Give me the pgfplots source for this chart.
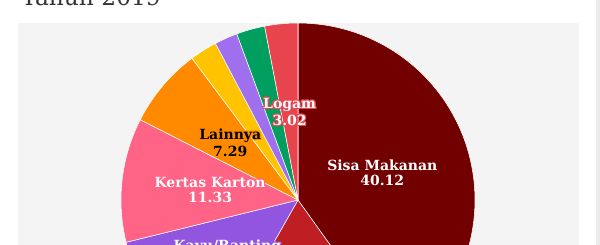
\documentclass[border=0pt]{standalone}
\usepackage{pgfplots}
\pgfplotsset{compat=1.18}
\usepgfplotslibrary{polar}
\usepackage{fontspec}
\setmainfont{DejaVu Serif}
\definecolor{cSisa}{HTML}{720000}
\definecolor{cPlastik}{HTML}{BF1E23}
\definecolor{cKayu}{HTML}{9155DF}
\definecolor{cKertas}{HTML}{FF6385}
\definecolor{cLainnya}{HTML}{FF8A00}
\definecolor{cKain}{HTML}{FFC300}
\definecolor{cKaret}{HTML}{9F6FEE}
\definecolor{cKaca}{HTML}{009E5F}
\definecolor{cLogam}{HTML}{E8444E}
\definecolor{panel}{HTML}{F4F4F4}
\definecolor{scroll}{HTML}{EBEBEB}
\definecolor{titlec}{HTML}{333333}
\gdef\cum{0}
\newcommand\slice[3]{% value, color, name
  \pgfmathsetmacro\aS{90-3.6*\cum}%
  \pgfmathsetmacro\cumN{\cum+#1}%
  \pgfmathsetmacro\aE{90-3.6*\cumN}%
  \pgfmathsetmacro\aM{(\aS+\aE)/2}%
  \expandafter\xdef\csname midang@#3\endcsname{\aM}%
  \edef\doplot{\noexpand\addplot[fill=#2, draw=white, line width=0.4pt, domain=\aE:\aS, samples=80] {1} -- (axis cs:0,0) -- cycle;}%
  \doplot
  \global\let\cum\cumN
}
\newcommand\midang[1]{\csname midang@#1\endcsname}
\newcommand\halo[3]{% halo color, text color, text
  \rlap{\color{#1}\hspace{0.8pt}#3}%
  \rlap{\color{#1}\hspace{-0.8pt}#3}%
  \rlap{\color{#1}\raisebox{0.8pt}{#3}}%
  \rlap{\color{#1}\raisebox{-0.8pt}{#3}}%
  \rlap{\color{#1}\hspace{0.6pt}\raisebox{0.6pt}{#3}}%
  \rlap{\color{#1}\hspace{-0.6pt}\raisebox{0.6pt}{#3}}%
  \rlap{\color{#1}\hspace{0.6pt}\raisebox{-0.6pt}{#3}}%
  \rlap{\color{#1}\hspace{-0.6pt}\raisebox{-0.6pt}{#3}}%
  {\color{#2}#3}}
\tikzset{lbl/.style={align=center, inner sep=0pt, font=\bfseries\fontsize{10.5}{11}\selectfont}}
\begin{document}
\begin{tikzpicture}[x=0.75pt,y=0.75pt]
\useasboundingbox (0,0) rectangle (600,245);
\clip (0,0) rectangle (600,245);
\fill[white] (0,0) rectangle (600,245);
\fill[panel] (18,0) rectangle (579,222);
\fill[scroll] (596,0) rectangle (600,245);
\node[anchor=base west, inner sep=0pt, text=titlec, font=\fontsize{17.5}{20}\selectfont] at (21,239) {Tahun 2019};
\begin{polaraxis}[at={(223.5pt,33.75pt)}, anchor=center, scale only axis,
  width=265.5pt, height=265.5pt, hide axis, ymin=0, ymax=1, clip=false]
\slice{40.12}{cSisa}{Sisa}
\slice{18.13}{cPlastik}{Plastik}
\slice{12.91}{cKayu}{Kayu}
\slice{11.33}{cKertas}{Kertas}
\slice{7.29}{cLainnya}{Lainnya}
\slice{2.5}{cKain}{Kain}
\slice{2.1}{cKaret}{Karet}
\slice{2.6}{cKaca}{Kaca}
\slice{3.02}{cLogam}{Logam}
\node[lbl] at (axis cs:\midang{Sisa},0.5) {\halo{cSisa}{white}{Sisa Makanan}\\\halo{cSisa}{white}{40.12}};
\node[lbl] at (axis cs:\midang{Plastik},0.5) {\halo{cPlastik}{white}{Plastik}\\\halo{cPlastik}{white}{18.13}};
\node[lbl] at (axis cs:\midang{Kayu},0.5) {\halo{cKayu}{white}{Kayu/Ranting}\\\halo{cKayu}{white}{12.91}};
\node[lbl] at (axis cs:\midang{Kertas},0.5) {\halo{cKertas}{white}{Kertas Karton}\\\halo{cKertas}{white}{11.33}};
\node[lbl] at (axis cs:\midang{Lainnya},0.5) {\halo{cLainnya}{black}{Lainnya}\\\halo{cLainnya}{black}{7.29}};
\node[lbl] at (axis cs:\midang{Logam},0.5) {\halo{cLogam}{white}{Logam}\\\halo{cLogam}{white}{3.02}};
\end{polaraxis}
\end{tikzpicture}
\end{document}
